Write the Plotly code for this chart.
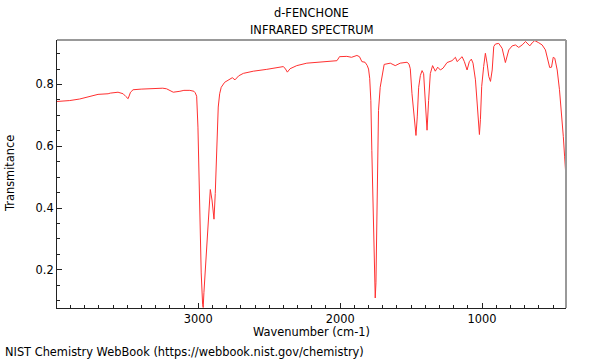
import plotly.graph_objects as go

wavenumber = [3995, 3905, 3835, 3788, 3764, 3706, 3635, 3620, 3565, 3529, 3510, 3494, 3477, 3459,
              3402, 3364, 3294, 3250, 3223, 3195, 3176, 3129, 3101, 3059, 3030, 3021, 3011, 3002,
              2995, 2988, 2979, 2969, 2965, 2960, 2948, 2937, 2925, 2915, 2903, 2889, 2880, 2868,
              2859, 2849, 2838, 2814, 2778, 2760, 2741, 2715, 2682, 2612, 2517, 2400, 2385, 2372,
              2353, 2306, 2235, 2141, 2023, 2010, 2005, 1953, 1920, 1882, 1864, 1847, 1825, 1810,
              1800, 1792, 1784, 1777, 1770, 1762, 1758, 1753, 1748, 1744, 1737, 1730, 1718, 1706,
              1690, 1647, 1612, 1577, 1529, 1515, 1506, 1494, 1483, 1471, 1466, 1457, 1447, 1435,
              1423, 1412, 1400, 1388, 1377, 1365, 1349, 1330, 1313, 1294, 1275, 1247, 1212, 1188,
              1176, 1160, 1141, 1125, 1106, 1090, 1076, 1064, 1047, 1035, 1026, 1019, 1012, 1003,
              989, 977, 965, 953, 941, 929, 918, 906, 883, 859, 836, 824, 812, 788, 765, 742, 718,
              694, 678, 664, 647, 629, 601, 577, 554, 538, 524, 511, 499, 488, 471, 455, 440, 428,
              419, 410]
transmittance = [0.745, 0.748, 0.753, 0.759, 0.761, 0.768, 0.770, 0.772, 0.775, 0.770, 0.761, 0.754, 0.775, 0.783,
                 0.785, 0.786, 0.789, 0.788, 0.786, 0.778, 0.775, 0.778, 0.781, 0.781, 0.778, 0.773, 0.762, 0.662,
                 0.501, 0.340, 0.190, 0.087, 0.078, 0.126, 0.211, 0.307, 0.394, 0.460, 0.426, 0.364, 0.447, 0.609,
                 0.727, 0.770, 0.791, 0.807, 0.818, 0.822, 0.815, 0.828, 0.836, 0.843, 0.849, 0.858, 0.850, 0.840,
                 0.851, 0.861, 0.869, 0.873, 0.877, 0.886, 0.890, 0.891, 0.888, 0.894, 0.890, 0.874, 0.872, 0.862,
                 0.850, 0.820, 0.748, 0.587, 0.426, 0.265, 0.157, 0.109, 0.158, 0.318, 0.533, 0.716, 0.791, 0.824,
                 0.865, 0.869, 0.861, 0.869, 0.872, 0.866, 0.851, 0.770, 0.705, 0.641, 0.635, 0.695, 0.791, 0.829,
                 0.845, 0.835, 0.748, 0.652, 0.748, 0.835, 0.861, 0.843, 0.856, 0.847, 0.853, 0.871, 0.877, 0.888,
                 0.874, 0.880, 0.890, 0.874, 0.847, 0.874, 0.882, 0.869, 0.815, 0.740, 0.665, 0.638, 0.686, 0.794,
                 0.858, 0.901, 0.869, 0.826, 0.810, 0.847, 0.923, 0.931, 0.933, 0.917, 0.871, 0.890, 0.912, 0.925, 0.928, 0.920, 0.928,
                 0.939, 0.933, 0.925, 0.935, 0.942, 0.935, 0.928, 0.912, 0.885, 0.855, 0.856, 0.888, 0.885, 0.847, 0.783, 0.707, 0.632,
                 0.568, 0.505]

x_tickvals = [3000, 2000, 1000]
x_ticktext = ["3000", "2000", "1000"]
y_tickvals = [0.2, 0.4, 0.6, 0.8]
y_ticktext = ["0.2", "0.4", "0.6", "0.8"]

FONT = "DejaVu Sans"
FS = 11.4
ML, MR, MT, MB = 57, 34, 40, 52
W, H = 600, 360
plot_h = H - MT - MB

fig = go.Figure()
fig.add_trace(go.Scatter(x=wavenumber, y=transmittance, mode="lines",
                         line=dict(color="#ff3030", width=1), showlegend=False, hoverinfo="skip"))

fig.update_layout(
    width=W, height=H,
    margin=dict(l=ML, r=MR, t=MT, b=MB, autoexpand=False),
    paper_bgcolor="white", plot_bgcolor="white",
    font=dict(family=FONT, size=FS, color="black"),
    xaxis=dict(range=[3995, 409], showgrid=False, zeroline=False,
               showline=True, linecolor="#222", linewidth=1,
               tickvals=x_tickvals, ticktext=x_ticktext,
               ticks="inside", ticklen=5, tickcolor="#222",
               minor=dict(dtick=100, tick0=0, ticks="inside", ticklen=3, tickcolor="#222"),
               tickfont=dict(family=FONT, size=FS)),
    yaxis=dict(range=[0.0765, 0.944], showgrid=False, zeroline=False,
               showline=True, linecolor="#222", linewidth=1,
               tickvals=y_tickvals, ticktext=y_ticktext,
               ticks="inside", ticklen=5, tickcolor="#222",
               minor=dict(dtick=0.05, tick0=0, ticks="inside", ticklen=3, tickcolor="#222"),
               tickfont=dict(family=FONT, size=FS)),
    shapes=[
        dict(type="line", xref="paper", yref="paper", x0=0, x1=1, y0=1, y1=1,
             line=dict(color="#999", width=2)),
        dict(type="line", xref="paper", yref="paper", x0=1, x1=1, y0=0, y1=1,
             line=dict(color="#999", width=2)),
    ],
    annotations=[
        dict(text="d-FENCHONE", x=0.5, y=1 + (MT - 13) / plot_h, xref="paper", yref="paper",
             xanchor="center", yanchor="middle", showarrow=False, font=dict(size=FS)),
        dict(text="INFRARED SPECTRUM", x=0.5, y=1 + (MT - 30) / plot_h, xref="paper", yref="paper",
             xanchor="center", yanchor="middle", showarrow=False, font=dict(size=FS)),
        dict(text="Wavenumber (cm-1)", x=0.5, y=0, xref="paper", yref="paper", showarrow=False,
             xanchor="center", yanchor="middle", yshift=-24, font=dict(size=FS)),
        dict(text="Transmitance", x=0, y=0.5, xref="paper", yref="paper", showarrow=False,
             xanchor="center", yanchor="middle", textangle=-90, xshift=-47, font=dict(size=FS)),
        dict(text="NIST Chemistry WebBook (https://webbook.nist.gov/chemistry)", x=0, y=0,
             xref="paper", yref="paper", xanchor="left", yanchor="middle", showarrow=False,
             xshift=-54, yshift=-44, font=dict(size=FS)),
    ],
)

fig.write_html("out.html", config={"displayModeBar": False},
               post_script="document.body.style.margin='0';")
